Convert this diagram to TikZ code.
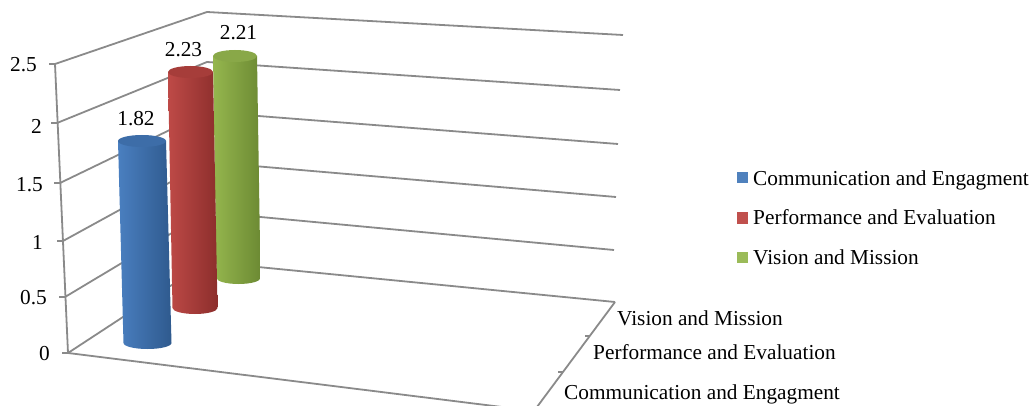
\documentclass[tikz,border=0pt]{standalone}
\usepackage{fontspec}
\setmainfont{Liberation Serif}
\usetikzlibrary{calc}

\definecolor{gridgray}{HTML}{8A8A8A}
\definecolor{blueL}{HTML}{4A7FC0}
\definecolor{blueM}{HTML}{5B95DC}
\definecolor{blueR}{HTML}{2F5A8E}
\definecolor{blueT}{HTML}{3D6DA8}
\definecolor{redL}{HTML}{BE4A47}
\definecolor{redM}{HTML}{D55A56}
\definecolor{redR}{HTML}{8C2E2C}
\definecolor{redT}{HTML}{A63D3A}
\definecolor{greenL}{HTML}{95B64E}
\definecolor{greenM}{HTML}{AACD62}
\definecolor{greenR}{HTML}{6C8A33}
\definecolor{greenT}{HTML}{89A848}
\definecolor{keyblue}{HTML}{4F81BD}
\definecolor{keyred}{HTML}{C0504D}
\definecolor{keygreen}{HTML}{9BBB59}

\newcommand\chartfont{\fontsize{21.3}{25}\selectfont}

%% #1 top centre, #2 bottom centre, #3 x radius, #4 colour family
\newcommand\drawbar[4]{%
  \shade[left color=#4L, middle color=#4M, right color=#4R]
    ($(#2)+(-#3,0)$) arc[start angle=180, end angle=0, x radius=#3, y radius=6]
    -- ($(#1)+(#3,0)$) -- ($(#1)+(-#3,0)$) -- cycle;
  \fill[#4T] (#1) ellipse[x radius=#3, y radius=6];
}

\begin{document}
\begin{tikzpicture}[x=1pt, y=-1pt,
  every node/.style={font=\chartfont},
  gridline/.style={draw=gridgray, line width=1.8pt},
  numlabel/.style={anchor=east, inner sep=0pt},
  datalabel/.style={inner sep=0pt},
  catlabel/.style={anchor=base west, inner sep=0pt},
  keybox/.style={minimum size=11pt, inner sep=0pt}]

  \clip (0,0) rectangle (1033,406);

  %% walls: front axis point, back corner, right end
  \foreach \k/\yb/\xf/\yf/\xr/\yr in {0/262/68/353/615/302, 1/212/65/297/614/250,
      2/162/63/241/616/197, 3/112/60/183/618/144, 4/62/57/123/620/90, 5/12/55/64/623/35}{
    \coordinate (f\k) at (\xf,\yf);
    \coordinate (b\k) at (207,\yb);
    \coordinate (r\k) at (\xr,\yr);
    \draw[gridline] (f\k) -- (b\k) -- (r\k);
    \draw[gridline] (f\k) -- +(-6,0); % tick
  }
  \draw[gridline] (f0) -- (f5); % value axis

  %% floor
  \coordinate (fr) at (534,411);
  \draw[gridline] (f0) -- (fr) -- (r0);
  \coordinate (c1) at ($(r0)!0.31!(fr)$);
  \coordinate (c2) at ($(r0)!0.645!(fr)$);
  \draw[gridline] (c1) -- +(-5,0);
  \draw[gridline] (c2) -- +(-5,0);

  %% value labels
  \foreach \lab/\x/\y [count=\i] in {0/50/354, 0.5/47/298, 1/43/242, 1.5/43/185, 2/42/126, 2.5/37/65}
    \node[numlabel] (v\i) at (\x,\y) {\lab};

  %% bars, back to front
  \coordinate (gtop) at (235,56);   \coordinate (gbot) at (238.5,278);
  \coordinate (rtop) at (190.5,72); \coordinate (rbot) at (195,308);
  \coordinate (btop) at (142,141);  \coordinate (bbot) at (147.5,343);
  \drawbar{gtop}{gbot}{22}{green}
  \drawbar{rtop}{rbot}{22.5}{red}
  \drawbar{btop}{bbot}{24}{blue}

  \node[datalabel] (d1) at (136,119) {1.82};
  \node[datalabel] (d2) at (183.5,50) {2.23};
  \node[datalabel] (d3) at (238.5,32.5) {2.21};

  %% category labels
  \node[catlabel] (cat3) at (617,325) {Vision and Mission};
  \node[catlabel] (cat2) at (593,359) {Performance and Evaluation};
  \node[catlabel] (cat1) at (564,399.5) {Communication and Engagment};

  %% legend
  \node[keybox, fill=keyblue] (k1) at (742.5,178) {};
  \node[keybox, fill=keyred] (k2) at (742.5,218) {};
  \node[keybox, fill=keygreen] (k3) at (742.5,257) {};
  \node[catlabel] (l1) at (753,185.5) {Communication and Engagment};
  \node[catlabel] (l2) at (753,225) {Performance and Evaluation};
  \node[catlabel] (l3) at (753,264) {Vision and Mission};

\end{tikzpicture}
\end{document}
